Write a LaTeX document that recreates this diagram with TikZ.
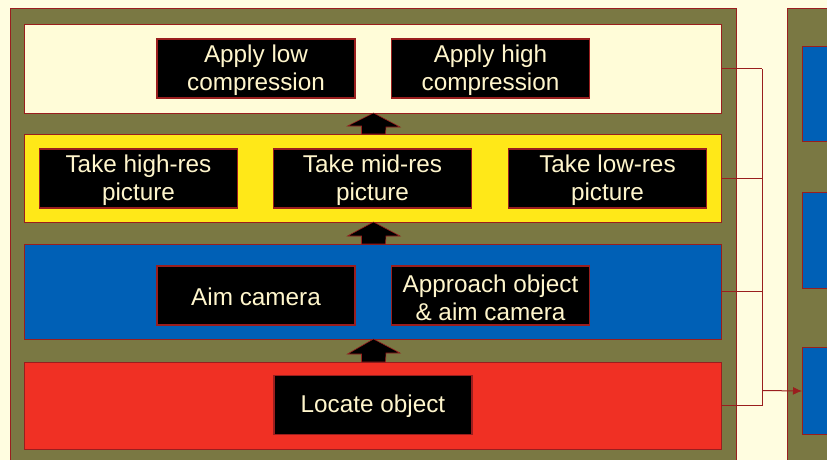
\documentclass[tikz,border=0pt]{standalone}
\usepackage{fontspec}
\setmainfont{Liberation Sans}
\usetikzlibrary{arrows.meta}
\definecolor{cream}{HTML}{FFFDE0}
\definecolor{layercream}{HTML}{FFFCD8}
\definecolor{olive}{HTML}{7A7843}
\definecolor{ylw}{HTML}{FFE818}
\definecolor{blu}{HTML}{0060B6}
\definecolor{rd}{HTML}{F03024}
\definecolor{dred}{HTML}{9A1E1E}
\definecolor{txt}{HTML}{FFF6CC}
\tikzset{
  panel/.style={fill=olive, draw=dred, line width=1pt},
  layer/.style={draw=dred, line width=1pt, minimum width=697pt, inner sep=0pt, outer sep=0pt},
  task/.style={fill=black, draw=dred, line width=1.3pt, text=txt, align=center,
    minimum width=198pt, minimum height=59pt, inner sep=0pt, outer sep=0pt,
    text height=20pt, font=\fontsize{24.3}{28}\selectfont},
  task2/.style={task, text height=49.5pt},
  blockarrow/.style={fill=black, draw=dred, line width=0.6pt},
  link/.style={draw=dred, line width=1pt},
}
\begin{document}
\begin{tikzpicture}[x=1pt,y=-1pt]
\useasboundingbox (0,0) rectangle (827,460);
\clip (0,0) rectangle (827,460);
\fill[cream] (0,0) rectangle (827,460);
% panels
\draw[panel] (10,9) rectangle (736,480);
\draw[panel] (787,9) rectangle (840,480);
% right panel blue boxes
\node[fill=blu, draw=dred, line width=1pt, minimum width=60pt, minimum height=95pt, inner sep=0pt, anchor=north west] (R1) at (802,46) {};
\node[fill=blu, draw=dred, line width=1pt, minimum width=60pt, minimum height=96pt, inner sep=0pt, anchor=north west] (R2) at (802,192) {};
\node[fill=blu, draw=dred, line width=1pt, minimum width=60pt, minimum height=87pt, inner sep=0pt, anchor=north west] (R3) at (802,347) {};
% layers
\node[layer, fill=layercream, minimum height=88pt] (L1) at (372.5,69) {};
\node[layer, fill=ylw, minimum height=88pt] (L2) at (372.5,178) {};
\node[layer, fill=blu, minimum height=95pt] (L3) at (372.5,291.5) {};
\node[layer, fill=rd, minimum height=87pt] (L4) at (372.5,405.5) {};
% tasks
\node[task2] (low) at (256,68.5) {Apply low\\compression};
\node[task2] (high) at (490.5,68.5) {Apply high\\compression};
\node[task2] (hires) at (138.5,178.5) {Take high-res\\picture};
\node[task2] (midres) at (372.5,178.5) {Take mid-res\\picture};
\node[task2] (lowres) at (607.5,178.5) {Take low-res\\picture};
\node[task] (aim) at (256,295.5) {Aim camera};
\node[task2] (approach) at (490.5,295.5) {Approach object\\\& aim camera};
\node[task] (locate) at (373,405) {Locate object};
% block arrows between layers
\foreach \a/\b in {L2/L1, L3/L2, L4/L3}{
  \path (\b.south -| 373.5,0) coordinate (tip);
  \draw[blockarrow] (\a.north -| 361.5,0) -- ++(0,-8) -- ++(-14,0) -- (tip) -- ++(26.5,14) -- ++(-14,0) -- (\a.north -| 385.5,0) -- cycle;
}
% links to right panel
\coordinate (bustop) at (762,69);
\coordinate (busbot) at (762,405.5);
\foreach \l in {L1,L2,L3,L4}{
  \draw[link] (\l.east) -- (\l.east -| bustop);
}
\draw[link] (bustop) -- (busbot);
\coordinate (tap) at (762,390.5);
\draw[link, -{Latex[length=9pt,width=8pt]}] (tap) -- (R3.west);
\end{tikzpicture}
\end{document}
